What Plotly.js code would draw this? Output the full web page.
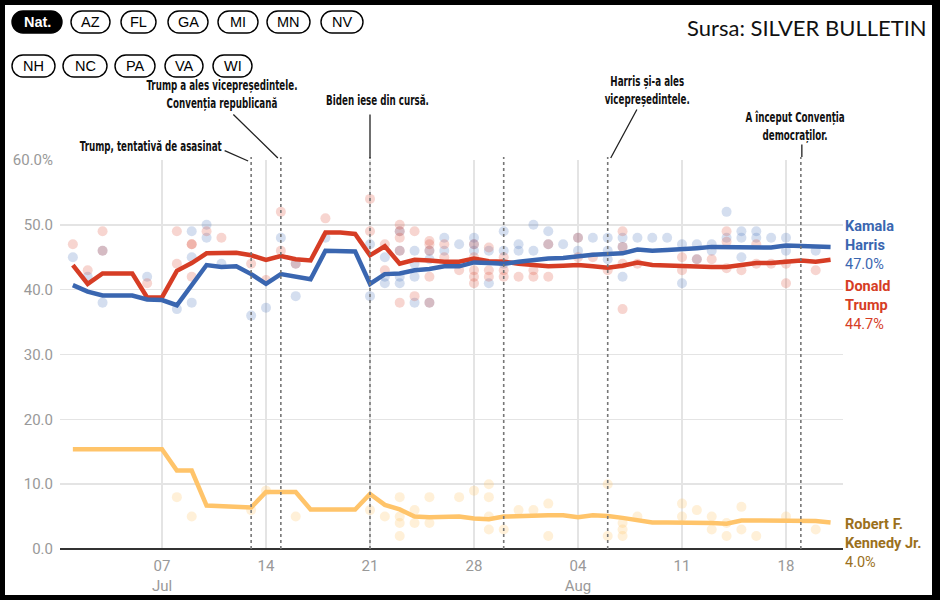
<!DOCTYPE html>
<html><head><meta charset="utf-8">
<script src="https://cdn.plot.ly/plotly-3.0.1.min.js"></script>
<style>
html,body{margin:0;padding:0;background:#fff;}
#wrap{position:relative;width:940px;height:600px;}
#chart{width:940px;height:600px;}
#frame{position:absolute;left:0;top:0;width:940px;height:600px;box-sizing:border-box;border-style:solid;border-color:#000;border-width:5px 8px 5px 5px;pointer-events:none;}
</style>
</head><body><div id="wrap"><div id="chart"></div><div id="frame"></div></div>
<script>
// ---------- DATA ----------
const lineDates = ['2024-07-01','2024-07-02','2024-07-03','2024-07-04','2024-07-05','2024-07-06','2024-07-07','2024-07-08','2024-07-09','2024-07-10','2024-07-11','2024-07-12','2024-07-13','2024-07-14','2024-07-15','2024-07-16','2024-07-17','2024-07-18','2024-07-19','2024-07-20','2024-07-21','2024-07-22','2024-07-23','2024-07-24','2024-07-25','2024-07-26','2024-07-27','2024-07-28','2024-07-29','2024-07-30','2024-07-31','2024-08-01','2024-08-02','2024-08-03','2024-08-04','2024-08-05','2024-08-06','2024-08-07','2024-08-08','2024-08-09','2024-08-10','2024-08-11','2024-08-12','2024-08-13','2024-08-14','2024-08-15','2024-08-16','2024-08-17','2024-08-18','2024-08-19','2024-08-20','2024-08-21'];
const harrisAvg = [40.7,39.7,39.1,39.1,39.1,38.5,38.4,37.6,40.6,43.8,43.5,43.6,42.4,40.9,42.4,42.0,41.6,46.0,46.0,45.9,40.9,42.4,42.5,43.0,43.2,43.6,43.6,44.2,44.1,44.0,44.3,44.6,44.8,44.9,45.2,45.4,45.5,45.6,46.2,46.0,46.1,46.2,46.4,46.6,46.6,46.6,46.5,46.5,46.8,46.7,46.7,46.6];
const trumpAvg = [43.8,40.9,42.5,42.5,42.5,38.8,38.8,42.9,44.1,45.6,45.6,45.7,45.3,44.6,45.2,44.7,44.5,48.8,48.8,48.6,45.3,46.7,44.0,44.6,44.5,44.3,44.3,44.8,44.4,44.3,44.0,43.8,43.6,43.7,43.8,43.6,43.4,43.7,44.2,43.8,43.7,43.7,43.6,43.5,43.5,43.8,44.1,44.1,44.3,44.5,44.3,44.6];
const rfkAvg = [15.4,15.4,15.4,15.4,15.4,15.4,15.4,12.1,12.1,6.7,6.6,6.5,6.4,8.8,8.8,8.8,6.1,6.1,6.1,6.1,8.5,6.8,6.1,5.0,4.9,5.0,5.0,4.7,4.6,5.0,5.1,5.1,5.2,5.2,4.9,5.2,5.1,4.8,4.4,4.1,4.1,4.1,4.1,4.0,3.9,4.4,4.4,4.4,4.3,4.3,4.3,4.1];

const harrisPollDates = ['2024-07-01','2024-07-02','2024-07-03','2024-07-03','2024-07-06','2024-07-08','2024-07-09','2024-07-09','2024-07-09','2024-07-10','2024-07-10','2024-07-11','2024-07-13','2024-07-14','2024-07-15','2024-07-16','2024-07-16','2024-07-18','2024-07-21','2024-07-21','2024-07-22','2024-07-22','2024-07-22','2024-07-23','2024-07-23','2024-07-23','2024-07-23','2024-07-24','2024-07-24','2024-07-24','2024-07-24','2024-07-25','2024-07-25','2024-07-25','2024-07-26','2024-07-26','2024-07-27','2024-07-28','2024-07-28','2024-07-28','2024-07-29','2024-07-29','2024-07-30','2024-07-30','2024-07-30','2024-07-31','2024-07-31','2024-08-01','2024-08-01','2024-08-02','2024-08-02','2024-08-03','2024-08-04','2024-08-04','2024-08-05','2024-08-06','2024-08-06','2024-08-06','2024-08-07','2024-08-07','2024-08-07','2024-08-08','2024-08-09','2024-08-10','2024-08-11','2024-08-11','2024-08-12','2024-08-12','2024-08-13','2024-08-13','2024-08-14','2024-08-14','2024-08-15','2024-08-15','2024-08-15','2024-08-16','2024-08-16','2024-08-17','2024-08-18','2024-08-18','2024-08-20'];
const harrisPolls = [45,42,46,38,42,37,49,45,38,50,48,44,36,37.2,48,44,39,48,47,39,45,42,41,49,46,42,41,46,44,42,38,46,44.7,38,48,46,47,48,47,46,46,41,49,46,44,47,46,50,46,49,47,47,48,46,48,48,46,44.7,48,46.6,42,48,48,48,47,41,47,44.7,47,46,52,48,49,48,45,49,48,48,48,46,46];

const trumpPollDates = ['2024-07-01','2024-07-02','2024-07-03','2024-07-03','2024-07-06','2024-07-08','2024-07-08','2024-07-09','2024-07-09','2024-07-09','2024-07-10','2024-07-11','2024-07-13','2024-07-14','2024-07-15','2024-07-15','2024-07-16','2024-07-18','2024-07-21','2024-07-21','2024-07-22','2024-07-22','2024-07-23','2024-07-23','2024-07-23','2024-07-23','2024-07-23','2024-07-24','2024-07-24','2024-07-25','2024-07-25','2024-07-25','2024-07-25','2024-07-25','2024-07-26','2024-07-26','2024-07-27','2024-07-28','2024-07-28','2024-07-28','2024-07-28','2024-07-28','2024-07-29','2024-07-29','2024-07-29','2024-07-30','2024-07-30','2024-07-30','2024-07-31','2024-08-01','2024-08-01','2024-08-02','2024-08-02','2024-08-04','2024-08-04','2024-08-05','2024-08-06','2024-08-07','2024-08-07','2024-08-07','2024-08-07','2024-08-08','2024-08-11','2024-08-11','2024-08-12','2024-08-13','2024-08-14','2024-08-14','2024-08-14','2024-08-15','2024-08-16','2024-08-16','2024-08-17','2024-08-18','2024-08-18','2024-08-20'];
const trumpPolls = [47,43,49,46,41,49,44,47,47,42,49,48,44,41.5,52,46,44,51,54,49,47,43,50,49,48,46,38,49,39,47.5,47,46,42,38,47,45,43,47,45,43,42,41,46.5,43,42,45,43,42,42,43,42,47,42,48,45,45,43,49,46.6,44,37,44,45,43,44.7,44.7,49,47.4,43.3,43,47,44,44,44,41,43];

const rfkPollDates = ['2024-07-08','2024-07-09','2024-07-13','2024-07-14','2024-07-16','2024-07-21','2024-07-22','2024-07-23','2024-07-23','2024-07-23','2024-07-23','2024-07-24','2024-07-24','2024-07-25','2024-07-25','2024-07-27','2024-07-28','2024-07-29','2024-07-29','2024-07-29','2024-07-29','2024-07-30','2024-07-31','2024-08-01','2024-08-02','2024-08-02','2024-08-06','2024-08-06','2024-08-07','2024-08-07','2024-08-07','2024-08-08','2024-08-11','2024-08-11','2024-08-12','2024-08-13','2024-08-13','2024-08-14','2024-08-14','2024-08-15','2024-08-15','2024-08-16','2024-08-18','2024-08-20'];
const rfkPolls = [8,5,6,9,5,6,5,8,5,4,2,6,4,8,4,8,9,10,8,5,3,3,6,6,7,2,10,2,4,3,2,5,7,5,6,5,3,4,2,6.5,3,2,5,3];

const eventDates = ['2024-07-13','2024-07-15','2024-07-21','2024-07-30','2024-08-06','2024-08-19'];
const eventLabels = ['Trump, tentativă de asasinat','Trump a ales vicepreședintele.<br>Convenția republicană','Biden iese din cursă.','','Harris și-a ales<br>vicepreședintele.','A început Convenția<br>democraților.'];

const xTickVals = ['2024-07-07','2024-07-14','2024-07-21','2024-07-28','2024-08-04','2024-08-11','2024-08-18'];
const xTickText = ['07<br>Jul','14','21','28','04<br>Aug','11','18'];
const yTickVals = [0,10,20,30,40,50,60];
const yTickText = ['0.0','10.0','20.0','30.0','40.0','50.0','60.0%'];

const stateButtons = ['Nat.','AZ','FL','GA','MI','MN','NV','NH','NC','PA','VA','WI'];
const seriesNames = ['Kamala<br>Harris','Donald<br>Trump','Robert F.<br>Kennedy Jr.'];
const seriesFinal = ['47.0%','44.7%','4.0%'];

// ---------- LAYOUT HELPERS ----------
const W = 940, H = 600, M = {l:60, r:97, t:160, b:51};
const PW = W - M.l - M.r, PH = H - M.t - M.b;
const px = v => (v - M.l) / PW;
const py = v => (H - M.b - v) / PH;

const C_H = '#3a66b0', C_T = '#d63d25', C_R = '#ffc46a', C_RL = '#9b701c';

function pill(x0, x1, y0, y1) {
  const r = (y1 - y0) / 2, k = 0.5523 * r;
  const P = (a, b) => px(a).toFixed(5) + ',' + py(b).toFixed(5);
  return 'M' + P(x0 + r, y0) + ' L' + P(x1 - r, y0) +
    ' C' + P(x1 - r + k, y0) + ' ' + P(x1, y0 + r - k) + ' ' + P(x1, y0 + r) +
    ' C' + P(x1, y0 + r + k) + ' ' + P(x1 - r + k, y1) + ' ' + P(x1 - r, y1) +
    ' L' + P(x0 + r, y1) +
    ' C' + P(x0 + r - k, y1) + ' ' + P(x0, y0 + r + k) + ' ' + P(x0, y0 + r) +
    ' C' + P(x0, y0 + r - k) + ' ' + P(x0 + r - k, y0) + ' ' + P(x0 + r, y0) + ' Z';
}

// ---------- TRACES ----------
const dot = (x, y, c) => ({x, y, type:'scatter', mode:'markers', hoverinfo:'skip',
  marker:{size:10, color:c, line:{width:0}}, showlegend:false});
const line = (y, c) => ({x: lineDates, y, type:'scatter', mode:'lines', hoverinfo:'skip',
  line:{color:c, width:4.5, shape:'linear'}, showlegend:false});

const traces = [
  dot(rfkPollDates, rfkPolls, 'rgba(255,196,106,0.26)'),
  dot(harrisPollDates, harrisPolls, 'rgba(58,107,181,0.22)'),
  dot(trumpPollDates, trumpPolls, 'rgba(220,64,42,0.22)'),
  line(rfkAvg, C_R),
  line(trumpAvg, C_T),
  line(harrisAvg, C_H)
];

// ---------- SHAPES & ANNOTATIONS ----------
const shapes = [];
const annotations = [];
const condensedIdx = [];

eventDates.forEach(d => shapes.push({type:'line', xref:'x', yref:'paper', x0:d, x1:d, y0:0, y1:1.008,
  line:{color:'#777', width:1.6, dash:'dot'}, layer:'above'}));

// event texts: [xshift, ypix]
const evTextPos = [[-100,146],[-59,94.5],[7,100],[0,0],[39,90.5],[-6,126]];
// leader lines: [tipShiftX, tipY, startDX, startDY]
const evLeader = [[-3,161,-25,-11],[-3,158,-46,-45],[0,158,0,-45],null,[3,158,27,-50],[1,157,0,-14]];
const evFont = {family:'DejaVu Sans Condensed, Liberation Sans Narrow, sans-serif', size:13.5, color:'#111'};
eventDates.forEach((d, i) => {
  if (!eventLabels[i]) return;
  condensedIdx.push(annotations.length);
  annotations.push({xref:'x', yref:'paper', x:d, y:py(evTextPos[i][1]), xshift:evTextPos[i][0],
    text:'<b>' + eventLabels[i] + '</b>', showarrow:false, xanchor:'center', yanchor:'middle',
    align:'center', font:evFont});
  const L = evLeader[i];
  annotations.push({xref:'x', yref:'paper', x:d, y:py(L[1]), xshift:L[0], text:'', showarrow:true,
    arrowhead:0, arrowwidth:1.3, arrowcolor:'#222', axref:'pixel', ayref:'pixel', ax:L[2], ay:L[3]});
});

// state buttons
const btnBox = [[12,62,11,33],[71,110,11,33],[121,156,11,33],[168,208,11,33],[218,258,11,33],[267,310,11,33],[321,363,11,33],
  [12,55,55,77],[63,107,55,77],[115,155,55,77],[165,203,55,77],[213,252,55,77]];
stateButtons.forEach((s, i) => {
  const b = btnBox[i];
  const active = i === 0;
  shapes.push({type:'path', xref:'paper', yref:'paper', path:pill(b[0], b[1], b[2], b[3]),
    fillcolor: active ? '#000' : '#fff', line:{color:'#000', width:1.4}, layer:'above'});
  annotations.push({xref:'paper', yref:'paper', x:px((b[0]+b[1])/2), y:py((b[2]+b[3])/2), showarrow:false,
    text: active ? '<b>' + s + '</b>' : s, xanchor:'center', yanchor:'middle',
    font:{family:'Liberation Sans, Arial, sans-serif', size:14.5, color: active ? '#fff' : '#000'}});
});

// source
annotations.push({xref:'paper', yref:'paper', x:px(929), y:py(27), xanchor:'right', yanchor:'middle', showarrow:false,
  text:'Sursa: SILVER BULLETIN', font:{family:'Lato, Open Sans, sans-serif', size:22, color:'#111'}});

// end labels
const endColors = [C_H, C_T, C_RL];
const endCenters = [245, 305, 543];
seriesNames.forEach((n, i) => {
  annotations.push({xref:'paper', yref:'paper', x:1, xshift:0, y:py(endCenters[i]), xanchor:'left', yanchor:'middle',
    showarrow:false, align:'left', text:'<b>' + n + '</b><br>' + seriesFinal[i],
    font:{family:'Roboto, sans-serif', size:14.5, color:endColors[i]}});
});

const layout = {
  width:W, height:H, margin:M, paper_bgcolor:'#fff', plot_bgcolor:'#fff', showlegend:false,
  xaxis:{type:'date', range:['2024-06-30 03:14','2024-08-21 20:05'], tickmode:'array', tickvals:xTickVals, ticktext:xTickText,
    showgrid:true, gridcolor:'#e4e4e4', gridwidth:1.5, zeroline:false, showline:false, ticks:'', ticklabelstandoff:6,
    tickfont:{family:'Roboto, sans-serif', size:15, color:'#999'}, fixedrange:true},
  yaxis:{range:[0,60], tickmode:'array', tickvals:yTickVals, ticktext:yTickText,
    showgrid:true, gridcolor:'#e4e4e4', gridwidth:1.5, zeroline:true, zerolinecolor:'#333', zerolinewidth:2,
    showline:false, ticks:'', ticklabelstandoff:6, tickfont:{family:'Roboto, sans-serif', size:15, color:'#999'}, fixedrange:true},
  shapes, annotations
};

Plotly.newPlot('chart', traces, layout, {displayModeBar:false, staticPlot:true}).then(() => {
  // squeeze event captions horizontally to imitate the condensed headline face
  const sx = 0.72;
  condensedIdx.forEach(i => {
    const t = document.querySelector('#chart g.annotation[data-index="' + i + '"] text.annotation-text');
    if (!t) return;
    const bb = t.getBBox();
    const cx = bb.x + bb.width / 2;
    const prev = t.getAttribute('transform') || '';
    t.setAttribute('transform', prev + ' translate(' + cx + ',0) scale(' + sx + ',1) translate(' + (-cx) + ',0)');
  });
});
</script></body></html>
